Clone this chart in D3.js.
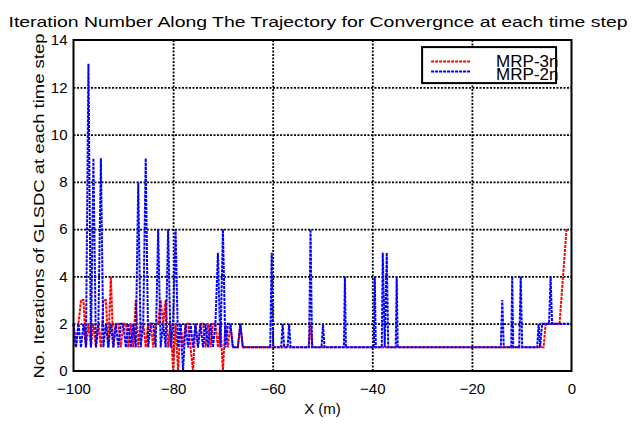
<!DOCTYPE html>
<html>
  <head>
    <meta charset="utf-8">
    <title>Iteration Number Along The Trajectory</title>
    <script src="https://d3js.org/d3.v7.min.js"></script>
    <style>
        body { margin: 0; background: #fff; }
        svg { font-family: "Liberation Sans", Arial, sans-serif; }
        .grid line { stroke: #000; stroke-width: 1.8px; stroke-dasharray: 2,1.5; }
        .grid path { display: none; }
        .axis text { font-size: 15px; fill: #000; }
        .line-3n { fill: none; stroke: #ff0000; stroke-width: 2px; stroke-dasharray: 3,1; }
        .line-2n { fill: none; stroke: #0000ff; stroke-width: 2px; stroke-dasharray: 3,1; }
    </style>
  </head>
  <body>
    <svg width="636" height="425"></svg>
    <script>
        // dense part of the trajectory, one sample every 0.5 m from -100 m to -66 m
        const denseX = d3.range(-100, -65.75, 0.5);
        const dense3n = [2,1,2,3,3,1,2,1,2,1,2,1,3,3,1,4,1,2,2,1,2,2,1,2,1,3,1,2,2,1,2,2,1,2,2,3,2,3,1,2,
                         0,2,0,2,1,2,2,1,0,2,1,2,2,1,2,1,2,2,1,2,0,2,1,2,1,1,1,2,1];
        const dense2n = [2,1,2,1,2,1,13,1,9,1,2,9,1,2,1,2,1,2,1,2,2,1,2,1,2,1,8,1,2,9,1,2,2,1,6,1,2,1,6,1,
                         2,6,1,2,0,2,1,2,1,2,1,2,1,2,1,2,1,2,5,1,6,1,2,2,1,1,1,2,1];

        // sparse part: vertices where the iteration count changes
        const tailX3n = [-52.8, -52.4, -52.0, -5.6, -5.2, -2.4, -1.0];
        const tail3n  = [1, 2, 1, 1, 2, 2, 6];
        const tailX2n = [-60.5, -60.2, -59.9, -58.3, -58.0, -57.7, -57.0, -56.7, -56.4, -52.7, -52.4, -52.1,
                         -50.2, -49.9, -49.6, -45.7, -45.5, -45.3, -39.7, -39.5, -39.3, -38.1, -37.9, -37.5, -37.1, -36.8,
                         -35.3, -35.1, -34.9, -14.2, -13.9, -13.6, -12.1, -11.9, -11.7, -10.5, -10.2, -9.9,
                         -6.9, -6.6, -6.3, -5.9, -4.5, -4.2, -3.9, 0];
        const tail2n  = [1, 5, 1, 1, 2, 1, 1, 2, 1, 1, 6, 1,
                         1, 2, 1, 1, 4, 1, 1, 4, 1, 1, 5, 1, 5, 1,
                         1, 4, 1, 1, 3, 1, 1, 4, 1, 1, 4, 1,
                         1, 2, 1, 2, 2, 4, 2, 2];

        const xTicks = [-100, -80, -60, -40, -20, 0];
        const yTicks = [0, 2, 4, 6, 8, 10, 12, 14];

        const series = [
            {name: "MRP-3n", cls: "line-3n",
             pts: denseX.map((x, i) => [x, dense3n[i]]).concat(tailX3n.map((x, i) => [x, tail3n[i]]))},
            {name: "MRP-2n", cls: "line-2n",
             pts: denseX.map((x, i) => [x, dense2n[i]]).concat(tailX2n.map((x, i) => [x, tail2n[i]]))}
        ];

        const margin = {top: 40, right: 64.5, bottom: 54, left: 73.5},
            width = 636 - margin.left - margin.right,
            height = 425 - margin.top - margin.bottom;

        const svg = d3.select("svg");
        const g = svg.append("g")
            .attr("transform", `translate(${margin.left},${margin.top})`);

        const x = d3.scaleLinear().domain([-100, 0]).range([0, width]);
        const y = d3.scaleLinear().domain([0, 14]).range([height, 0]);

        // grid + tick labels
        g.append("g")
            .attr("class", "grid axis")
            .attr("transform", `translate(0,${height})`)
            .call(d3.axisBottom(x).tickValues(xTicks).tickSize(-height).tickPadding(12))
            .selectAll(".tick line")
            .filter(d => d === -100 || d === 0).remove();

        g.append("g")
            .attr("class", "grid axis")
            .call(d3.axisLeft(y).tickValues(yTicks).tickSize(-width).tickPadding(6))
            .selectAll(".tick line")
            .filter(d => d === 0 || d === 14).remove();

        g.selectAll(".axis").attr("font-family", null).attr("font-size", null);

        const line = d3.line()
            .x(d => x(d[0]))
            .y(d => y(d[1]));

        series.forEach(s => {
            g.append("path")
                .datum(s.pts)
                .attr("class", s.cls)
                .attr("d", line);
        });

        // frame
        g.append("rect")
            .attr("width", width)
            .attr("height", height)
            .attr("fill", "none")
            .attr("stroke", "#000")
            .attr("stroke-width", 2);

        // legend
        const legend = g.append("g")
            .attr("transform", `translate(${x(-30)},${y(13.7)})`);

        legend.append("rect")
            .attr("width", 134)
            .attr("height", 36)
            .attr("fill", "#fff")
            .attr("stroke", "#000")
            .attr("stroke-width", 2);

        series.forEach((s, i) => {
            legend.append("line")
                .attr("class", s.cls)
                .attr("x1", 9).attr("x2", 49)
                .attr("y1", 14.5 + i * 10).attr("y2", 14.5 + i * 10);
            legend.append("text")
                .attr("x", 74)
                .attr("y", 19.5 + i * 13)
                .style("font-size", "17px")
                .text(s.name);
        });

        // titles
        svg.append("text")
            .attr("x", 318)
            .attr("y", 27)
            .attr("text-anchor", "middle")
            .attr("textLength", 619)
            .attr("lengthAdjust", "spacingAndGlyphs")
            .style("font-size", "15px")
            .text("Iteration Number Along The Trajectory for Convergnce at each time step");

        svg.append("text")
            .attr("x", margin.left + width / 2)
            .attr("y", 414)
            .attr("text-anchor", "middle")
            .style("font-size", "15px")
            .text("X (m)");

        svg.append("text")
            .attr("transform", "rotate(-90)")
            .attr("x", -206)
            .attr("y", 44)
            .attr("text-anchor", "middle")
            .attr("textLength", 345)
            .attr("lengthAdjust", "spacingAndGlyphs")
            .style("font-size", "15px")
            .text("No. Iterations of GLSDC at each time step");
    </script>
  </body>
</html>
